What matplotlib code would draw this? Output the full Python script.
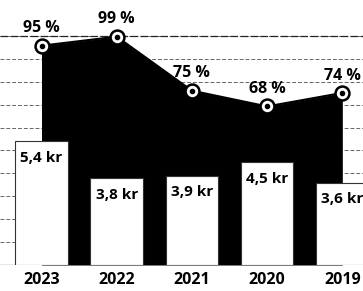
import numpy as np
import matplotlib.pyplot as plt

# data
years = ["2023", "2022", "2021", "2020", "2019"]
pct = [95, 99, 75, 68, 74]
kr = [5.4, 3.8, 3.9, 4.5, 3.6]
pct_labels = ["95 %", "99 %", "75 %", "68 %", "74 %"]
kr_labels = ["5,4 kr", "3,8 kr", "3,9 kr", "4,5 kr", "3,6 kr"]

plt.rcParams['font.family'] = ['Open Sans', 'DejaVu Sans']
plt.rcParams['font.weight'] = 'bold'

x = np.arange(len(years))
kr_top = 11.57
# percent scale sits a little offset from the kr scale
p_lo, p_hi = -2.49, 115.3

fig = plt.figure(figsize=(3.63, 2.91), dpi=100)
ax = fig.add_axes([0, 0.0893, 1, 0.9107])
ax.set_xlim(-0.552, 4.275)
ax.set_ylim(0, kr_top)
ax.set_yticks(range(1, 11))
ax.grid(axis='y', color='#666666', linestyle=(0, (4, 2)), linewidth=0.7)
ax.axhline(10, color='#222222', linestyle=(0, (6, 2)), linewidth=0.9)
ax.axhline(0, color='#888888', linewidth=1.0)
ax.set_xticks(x)
ax.set_xticklabels(years, fontsize=11.5, fontweight='bold')
ax.tick_params(axis='x', length=0, pad=5)
ax.tick_params(axis='y', length=0, labelleft=False)
for s in ax.spines.values():
    s.set_visible(False)

# black area with the percent line
axp = ax.twinx()
axp.set_ylim(p_lo, p_hi)
axp.fill_between(x, p_lo, pct, color='black', linewidth=0)
axp.plot(x, pct, color='black', linewidth=1.5)
axp.plot(x, pct, 'o', ms=10, mfc='white', mec='black', mew=1.8, zorder=5)
axp.plot(x, pct, 'o', ms=3, color='black', zorder=6)
for xi, v, lab in zip(x, pct, pct_labels):
    axp.annotate(lab, (xi, v), xytext=(0, 9.5), textcoords='offset points',
                 ha='center', va='baseline', fontsize=11.5, fontweight='bold')
axp.set_yticks([])
for s in axp.spines.values():
    s.set_visible(False)

# white bars in front
axb = ax.twinx()
axb.set_ylim(0, kr_top)
axb.bar(x, kr, width=0.7, color='white', edgecolor='#333333', linewidth=0.8)
for xi, v, lab in zip(x, kr, kr_labels):
    axb.annotate(lab, (xi, v), xytext=(0, -7), textcoords='offset points',
                 ha='center', va='top', fontsize=11, fontweight='bold')
axb.set_yticks([])
for s in axb.spines.values():
    s.set_visible(False)

fig.savefig('out.png', dpi=100)
